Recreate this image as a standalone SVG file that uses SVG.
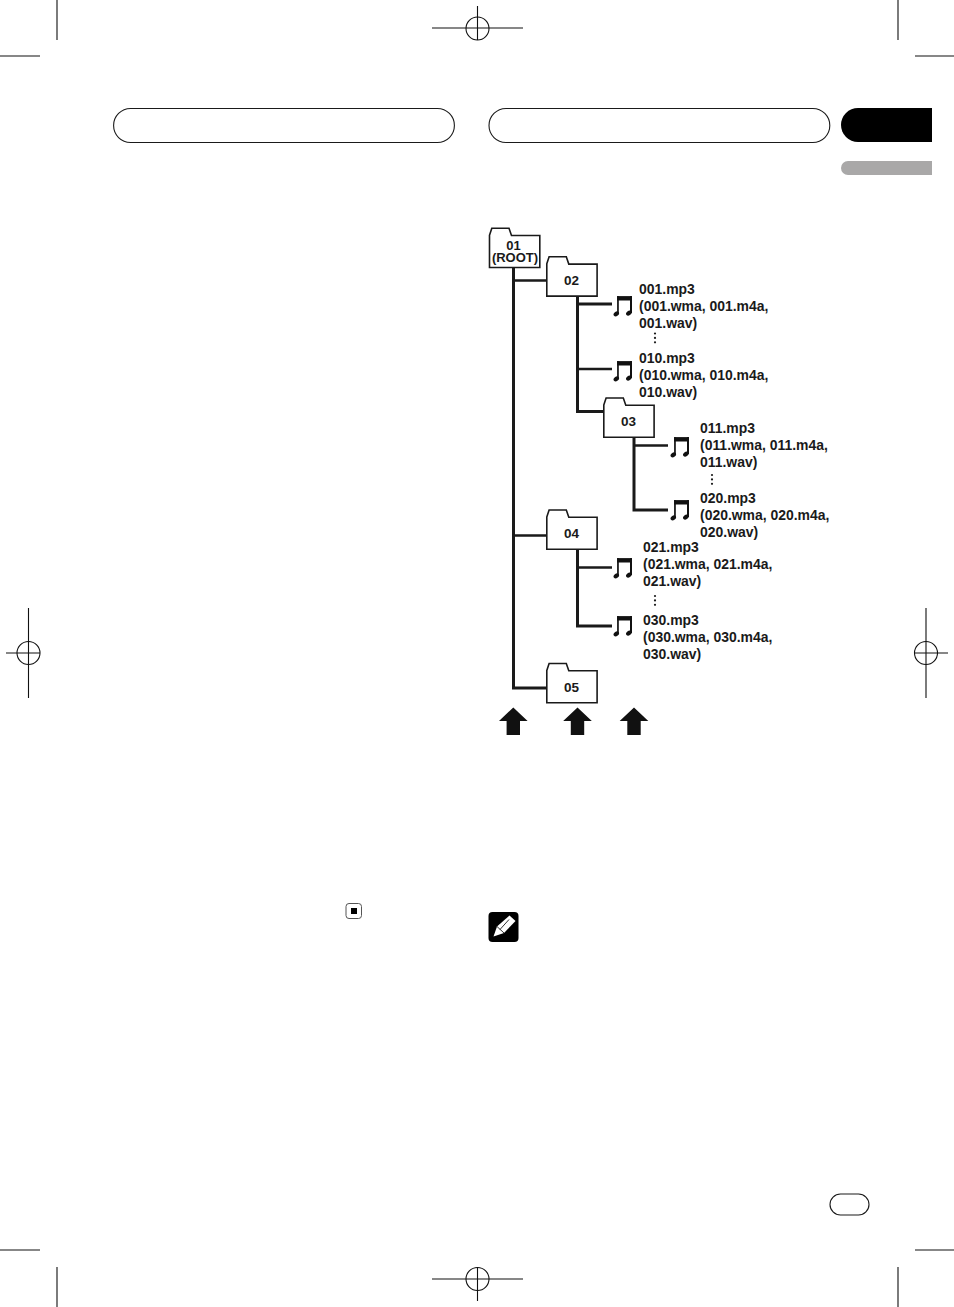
<svg xmlns="http://www.w3.org/2000/svg" width="954" height="1307" viewBox="0 0 954 1307">
<style>
.crop{stroke:#111;stroke-width:1.1;fill:none}
.pill{fill:#fff;stroke:#1a1a1a;stroke-width:1.1}
.folder{fill:#fff;stroke:#1a1a1a;stroke-width:1.6;stroke-linejoin:miter}
.conn{stroke:#1a1a1a;fill:none;stroke-width:3}
.thin{stroke:#1a1a1a;fill:none;stroke-width:2.6}
.t{font-family:"Liberation Sans",Arial,sans-serif;font-weight:700;font-size:13.95px;fill:#1a1a1a}
.ft{font-family:"Liberation Sans",Arial,sans-serif;font-weight:700;font-size:13.5px;fill:#1a1a1a;text-anchor:middle}
.arrow{fill:#111}
</style>
<defs>
<path id="folder" class="folder" d="M0 7 L2.3 0 H19.5 L22 7.3 H50.3 V39.3 H0 Z"/>
<g id="note" fill="#111">
<rect x="3.6" y="0.6" width="14.8" height="4.4"/>
<rect x="3.6" y="0.6" width="1.7" height="18"/>
<rect x="16.5" y="0.6" width="2" height="17"/>
<ellipse cx="2.8" cy="18.4" rx="3" ry="2.2" transform="rotate(-40 2.8 18.4)"/>
<ellipse cx="15.3" cy="17.6" rx="3" ry="2.2" transform="rotate(-40 15.3 17.6)"/>
</g>
<g id="dots" fill="#1a1a1a"><circle cx="0" cy="0" r="1.1"/><circle cx="0" cy="4.4" r="1.1"/><circle cx="0" cy="8.8" r="1.1"/></g>
<path id="arrow" class="arrow" d="M0 0 L14.3 13.5 H6.7 V27.5 H-6.7 V13.5 H-14.3 Z"/>
</defs>
<rect width="954" height="1307" fill="#fff"/>

<g id="crop-marks" class="crop">
<path d="M57 0V40M0 56H40M898 0V40M915 56H954M57 1267V1307M0 1250H40M898 1267V1307M915 1250H954"/>
<path d="M477.5 6V40M432 28H523"/><circle cx="477.5" cy="28.5" r="11.5"/>
<path d="M477.5 1267V1301M432 1279H523"/><circle cx="477.5" cy="1279" r="11.5"/>
<path d="M28.5 608V698M6 653H40"/><circle cx="28.5" cy="653" r="11.5"/>
<path d="M926 608V698M914 653H948"/><circle cx="926" cy="653" r="11.5"/>
</g>

<g id="header">
<rect class="pill" x="113.6" y="108.5" width="340.8" height="34" rx="17"/>
<rect class="pill" x="489" y="108.5" width="340.8" height="34" rx="17"/>
<path d="M932 108H858A17 17 0 0 0 858 142H932Z" fill="#000"/>
<path d="M932 161H848A7 7 0 0 0 848 175H932Z" fill="#a9a8a8"/>
</g>

<g id="connectors">
<path class="conn" d="M513.5 267V688H547"/>
<path class="thin" d="M513.5 280.5H547M513.5 535.5H547"/>
<path class="conn" d="M577.5 296V411.5H604M577.5 304H612"/>
<path class="thin" d="M577.5 369H612"/>
<path class="conn" d="M634 437V510H668"/>
<path class="thin" d="M634 445.5H668"/>
<path class="conn" d="M577.5 549V626H612"/>
<path class="thin" d="M577.5 567.5H612"/>
</g>

<g id="folder-01"><use href="#folder" x="489.5" y="228.2"/><text class="ft" style="font-size:13px"><tspan x="513.5" y="250">01</tspan><tspan x="515" y="262.3">(ROOT)</tspan></text></g>
<g id="folder-02"><use href="#folder" x="546.8" y="256.8"/><text class="ft" x="571.5" y="285">02</text></g>
<g id="folder-03"><use href="#folder" x="603.8" y="398"/><text class="ft" x="628.5" y="426">03</text></g>
<g id="folder-04"><use href="#folder" x="546.8" y="510"/><text class="ft" x="571.5" y="538">04</text></g>
<g id="folder-05"><use href="#folder" x="546.8" y="663.5"/><text class="ft" x="571.5" y="692">05</text></g>

<g id="files-001">
<use href="#note" x="613.5" y="295.5"/>
<text class="t" x="639" y="294">001.mp3</text><text class="t" x="639" y="311">(001.wma, 001.m4a,</text><text class="t" x="639" y="328">001.wav)</text>
<use href="#dots" x="655" y="333.5"/>
</g>
<g id="files-010">
<use href="#note" x="613.5" y="360.5"/>
<text class="t" x="639" y="363">010.mp3</text><text class="t" x="639" y="380">(010.wma, 010.m4a,</text><text class="t" x="639" y="397">010.wav)</text>
</g>
<g id="files-011">
<use href="#note" x="670.5" y="436.5"/>
<text class="t" x="700" y="433">011.mp3</text><text class="t" x="700" y="450">(011.wma, 011.m4a,</text><text class="t" x="700" y="467">011.wav)</text>
<use href="#dots" x="712" y="475"/>
</g>
<g id="files-020">
<use href="#note" x="670.5" y="499.5"/>
<text class="t" x="700" y="503">020.mp3</text><text class="t" x="700" y="520">(020.wma, 020.m4a,</text><text class="t" x="700" y="537">020.wav)</text>
</g>
<g id="files-021">
<use href="#note" x="613.5" y="557.5"/>
<text class="t" x="643" y="552">021.mp3</text><text class="t" x="643" y="569">(021.wma, 021.m4a,</text><text class="t" x="643" y="586">021.wav)</text>
<use href="#dots" x="655" y="596"/>
</g>
<g id="files-030">
<use href="#note" x="613.5" y="615.5"/>
<text class="t" x="643" y="625">030.mp3</text><text class="t" x="643" y="642">(030.wma, 030.m4a,</text><text class="t" x="643" y="659">030.wav)</text>
</g>

<g id="level-arrows">
<use href="#arrow" x="513.3" y="707.5"/>
<use href="#arrow" x="577.5" y="707.5"/>
<use href="#arrow" x="634" y="707.5"/>
</g>

<g id="stop-icon">
<rect x="346" y="903.5" width="15.5" height="15" rx="3" fill="#fff" stroke="#555" stroke-width="1"/>
<rect x="351" y="908" width="6" height="6" fill="#000"/>
</g>

<g id="note-icon">
<rect x="488.5" y="912" width="30" height="30" rx="4" fill="#000"/>
<path d="M493.5 936.5L497 926.5L509.5 915.5L515.5 921L504 933Z" fill="#fff"/>
<path d="M497 926.5L504 933M500 929.5L509 919.5" stroke="#000" stroke-width="0.8" fill="none"/>
</g>

<g id="page-number">
<rect class="pill" x="830" y="1194" width="39" height="21" rx="10.5"/>
</g>
</svg>
